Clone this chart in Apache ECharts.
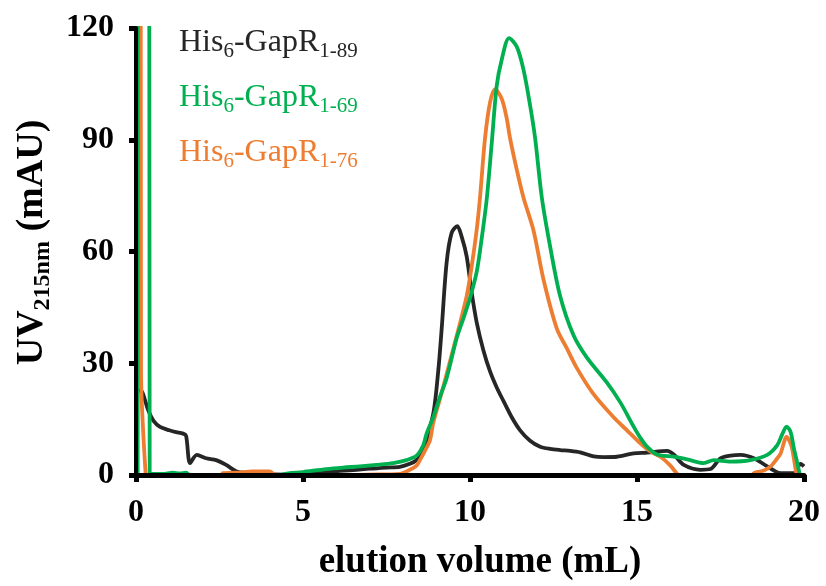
<!DOCTYPE html>
<html>
<head>
<meta charset="utf-8">
<script src="https://cdn.jsdelivr.net/npm/echarts@6/dist/echarts.min.js"></script>
<style>
  html, body { margin: 0; padding: 0; background: #ffffff; }
  #chart { width: 826px; height: 586px; }
</style>
</head>
<body>
<div id="chart"></div>
<script>
// ---- data (elution volume in mL, UV215nm in mAU) ----
const seriesNames = ['His6-GapR1-89', 'His6-GapR1-69', 'His6-GapR1-76'];
const seriesColors = ['#262626', '#00b050', '#ed7d31'];

const blackVolume = [0, 0.005, 0.17, 0.22, 0.37, 0.52, 0.72, 1.0, 1.2, 1.41, 1.5, 1.62, 1.82, 2.1, 2.4, 2.7, 3.0, 3.3, 3.8, 4.5, 5.0, 5.5, 6.0, 6.5, 7.0, 7.5, 7.9, 8.2, 8.4, 8.6, 8.9, 9.05, 9.15, 9.3, 9.45, 9.62, 9.75, 9.9, 10.05, 10.2, 10.4, 10.6, 10.8, 11.0, 11.25, 11.5, 11.8, 12.1, 12.4, 12.7, 13.0, 13.3, 13.7, 14.0, 14.4, 14.9, 15.3, 15.9, 16.1, 16.4, 16.9, 17.2, 17.5, 17.8, 18.1, 18.5, 18.9, 19.3, 19.7, 19.9, 20.0];
const blackValue  = [300, 23, 22.5, 21.5, 17.3, 14.6, 12.9, 12, 11.5, 11.1, 10.5, 3.2, 5.4, 4.5, 4, 2.7, 1.0, 0.5, 0.2, 0.1, 0.4, 0.6, 1.0, 1.3, 1.7, 2.0, 2.2, 3.0, 4.0, 6.5, 16.4, 28, 39, 57, 65, 66.8, 64, 58.7, 49, 41, 33.5, 27.8, 23.5, 19.9, 15.5, 12, 9.2, 7.6, 7.0, 6.7, 6.5, 6.1, 5.0, 4.8, 4.9, 5.8, 6.0, 6.5, 5.5, 2.7, 1.4, 1.6, 4.5, 5.2, 5.4, 4.5, 2.3, 0.5, 0.5, 3.0, 2.3];

const greenVolume = [0, 0.05, 0.06, 0.38, 0.41, 0.8, 1.1, 1.3, 1.5, 1.6, 1.8, 4.2, 4.4, 5.0, 5.7, 6.2, 6.7, 7.2, 7.7, 8.1, 8.4, 8.6, 8.7, 8.9, 9.1, 9.3, 9.6, 9.8, 10.0, 10.2, 10.35, 10.5, 10.65, 10.8, 10.95, 11.17, 11.4, 11.6, 11.8, 11.95, 12.15, 12.4, 12.7, 13.1, 13.5, 14.1, 14.5, 14.9, 15.1, 15.3, 15.6, 16.1, 16.5, 17.0, 17.3, 17.8, 18.4, 18.9, 19.2, 19.35, 19.48, 19.6, 19.7, 19.78, 19.88, 19.95];
const greenValue  = [0, 0, 300, 300, 0.3, 0.3, 0.6, 0.4, 0.6, 0, -1, -1, 0.2, 0.8, 1.6, 2.0, 2.3, 2.7, 3.2, 4.0, 5.2, 8, 11.1, 15.5, 21, 26, 36.7, 42, 47.5, 54.5, 63.5, 74, 89, 104.5, 111.5, 117.3, 115, 108.9, 99.2, 90.4, 74.5, 61.3, 48, 37.5, 31.5, 24.8, 19.5, 13, 10, 7.6, 5.5, 4.9, 4.2, 3.2, 4, 3.6, 4, 5.4, 8, 11, 13, 11.5, 7, 4, 0, -1];

const orangeVolume = [0, 0.13, 0.15, 0.29, 0.35, 2.5, 2.6, 3.0, 3.5, 4.0, 4.15, 4.3, 6.6, 6.7, 7.9, 8.2, 8.4, 8.5, 8.65, 8.8, 8.9, 9.15, 9.4, 9.65, 9.9, 10.05, 10.2, 10.3, 10.45, 10.6, 10.75, 10.95, 11.1, 11.2, 11.4, 11.6, 11.9, 12.2, 12.6, 12.9, 13.2, 13.7, 14.3, 14.7, 15.1, 15.4, 15.7, 16.0, 16.2, 16.35, 17.3, 17.4, 17.5, 18.4, 18.5, 18.8, 19.0, 19.2, 19.3, 19.48, 19.63, 19.78, 19.85];
const orangeValue  = [0, 300, 28, 0, -1, -1, 0.5, 0.6, 1.0, 1.0, 0, -1, -1, 0, 0.3, 1.4, 2.5, 4, 6.5, 9.3, 14, 22, 30.5, 39, 48, 56, 65.8, 74.5, 90.4, 100, 103.6, 101, 95.7, 90.4, 82, 74.5, 65.7, 52.5, 39.3, 34, 28.7, 21.7, 15.5, 12, 8.5, 6.3, 4.9, 2.5, 0.3, -1, -1, 0, -1, -1, 0.5, 1.2, 2.3, 4.5, 5.8, 10.2, 7.6, 0, -1];

const xTicks = { min: 0, max: 20, interval: 5 };
const yTicks = { min: 0, max: 120, interval: 30 };

// rich-text pieces for subscripts
const legendRich = {
  'His6-GapR1-89': '{a|His}{s|6}{a|-GapR}{s|1-89}',
  'His6-GapR1-69': '{a|His}{s|6}{a|-GapR}{s|1-69}',
  'His6-GapR1-76': '{a|His}{s|6}{a|-GapR}{s|1-76}'
};

function pairs(xs, ys) { return xs.map((x, i) => [x, ys[i]]); }
const seriesData = [pairs(blackVolume, blackValue), pairs(greenVolume, greenValue), pairs(orangeVolume, orangeValue)];
const drawOrder = [0, 2, 1];

const serif = 'Liberation Serif';
const chart = echarts.init(document.getElementById('chart'), null, { renderer: 'canvas' });

chart.setOption({
  animation: false,
  backgroundColor: '#ffffff',
  grid: { left: 136, right: 22, top: 28, bottom: 104, containLabel: false },
  legend: {
    orient: 'vertical',
    left: 169,
    top: 22,
    icon: 'none',
    itemWidth: 0,
    itemTextGap: 0,
    itemGap: 20,
    selectedMode: false,
    data: seriesNames.map((n, i) => ({ name: n, textStyle: { color: seriesColors[i] } })),
    formatter: name => legendRich[name],
    textStyle: {
      fontFamily: serif,
      rich: {
        a: { fontFamily: serif, fontSize: 32, lineHeight: 38, verticalAlign: 'middle' },
        s: { fontFamily: serif, fontSize: 21, lineHeight: 38, verticalAlign: 'bottom' }
      }
    }
  },
  xAxis: {
    type: 'value',
    min: xTicks.min, max: xTicks.max, interval: xTicks.interval,
    z: 10,
    name: 'elution volume (mL)',
    nameLocation: 'middle',
    nameGap: 69,
    nameTextStyle: { fontFamily: serif, fontWeight: 'bold', fontSize: 37, color: '#000', padding: [0, 0, 0, 20] },
    axisLine: { show: true, onZero: false, lineStyle: { color: '#000', width: 5 } },
    axisTick: { show: true, inside: false, length: 7, lineStyle: { color: '#000', width: 5 } },
    axisLabel: { margin: 22, fontFamily: serif, fontWeight: 'bold', fontSize: 32, color: '#000' },
    splitLine: { show: false }
  },
  yAxis: {
    type: 'value',
    min: yTicks.min, max: yTicks.max, interval: yTicks.interval,
    z: 10,
    name: 'UV{s|215nm} (mAU)',
    nameLocation: 'middle',
    nameRotate: 90,
    nameGap: 80,
    nameTextStyle: {
      fontFamily: serif, fontWeight: 'bold', fontSize: 38, color: '#000', padding: [0, 0, 0, 18],
      rich: {
        s: { fontFamily: serif, fontWeight: 'bold', fontSize: 24, lineHeight: 46, verticalAlign: 'bottom', color: '#000' }
      }
    },
    axisLine: { show: true, onZero: false, lineStyle: { color: '#000', width: 4 } },
    axisTick: { show: true, inside: false, length: 7, lineStyle: { color: '#000', width: 5 } },
    axisLabel: { margin: 22, fontFamily: serif, fontWeight: 'bold', fontSize: 32, color: '#000' },
    splitLine: { show: false }
  },
  series: drawOrder.map(i => ({
    name: seriesNames[i],
    type: 'line',
    data: seriesData[i],
    showSymbol: false,
    symbol: 'none',
    clip: true,
    smooth: 0.3,
    lineStyle: { color: seriesColors[i], width: 3.8 },
    itemStyle: { color: seriesColors[i] },
    z: 2
  }))
});
</script>
</body>
</html>
